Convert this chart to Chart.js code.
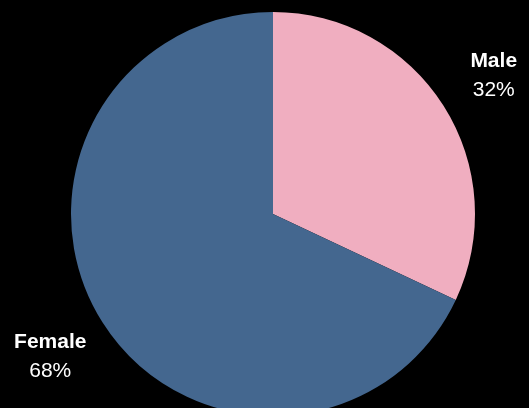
<!DOCTYPE html>
<html lang="en">
<head>
  <meta charset="UTF-8" />
  <title>Gender split</title>
  <script src="https://cdn.jsdelivr.net/npm/chart.js"></script>
  <style>
    html, body {
      margin: 0;
      padding: 0;
      background: #000;
      overflow: hidden;
    }
    .chart-box {
      position: relative;
      width: 529px;
      height: 416px;
    }
  </style>
</head>
<body>
  <div class="chart-box">
    <canvas id="pieChart"></canvas>
  </div>

<script>
const labels = ["Male", "Female"];
const shares = [32, 68];
const colors = ["#F0AEC0", "#44678F"];

// outside labels: name in bold, percent below it, placed along each slice's middle angle
const outsideLabels = {
  id: 'outsideLabels',
  afterDatasetsDraw(chart) {
    const ctx = chart.ctx;
    const meta = chart.getDatasetMeta(0);
    ctx.save();
    ctx.fillStyle = '#fff';
    ctx.textAlign = 'center';
    ctx.textBaseline = 'middle';
    meta.data.forEach((arc, i) => {
      const p = arc.getProps(['x', 'y', 'startAngle', 'endAngle', 'outerRadius'], true);
      const mid = (p.startAngle + p.endAngle) / 2;
      const r = p.outerRadius * 1.3;
      const x = p.x + Math.cos(mid) * r;
      const y = p.y + Math.sin(mid) * r;
      ctx.font = 'bold 21px "Liberation Sans", Arial, sans-serif';
      ctx.fillText(labels[i], x - 1, y - 12.5);
      ctx.font = '21px "Liberation Sans", Arial, sans-serif';
      ctx.fillText(shares[i] + '%', x - 1, y + 16.5);
    });
    ctx.restore();
  }
};

new Chart(document.getElementById('pieChart'), {
  type: 'pie',
  data: {
    labels: labels,
    datasets: [{
      data: shares,
      backgroundColor: colors,
      borderWidth: 0
    }]
  },
  options: {
    responsive: true,
    maintainAspectRatio: false,
    animation: false,
    layout: { padding: { top: 12, left: 17, right: 0, bottom: 0 } },
    plugins: {
      legend: { display: false },
      tooltip: { enabled: false }
    }
  },
  plugins: [outsideLabels]
});
</script>
</body>
</html>
